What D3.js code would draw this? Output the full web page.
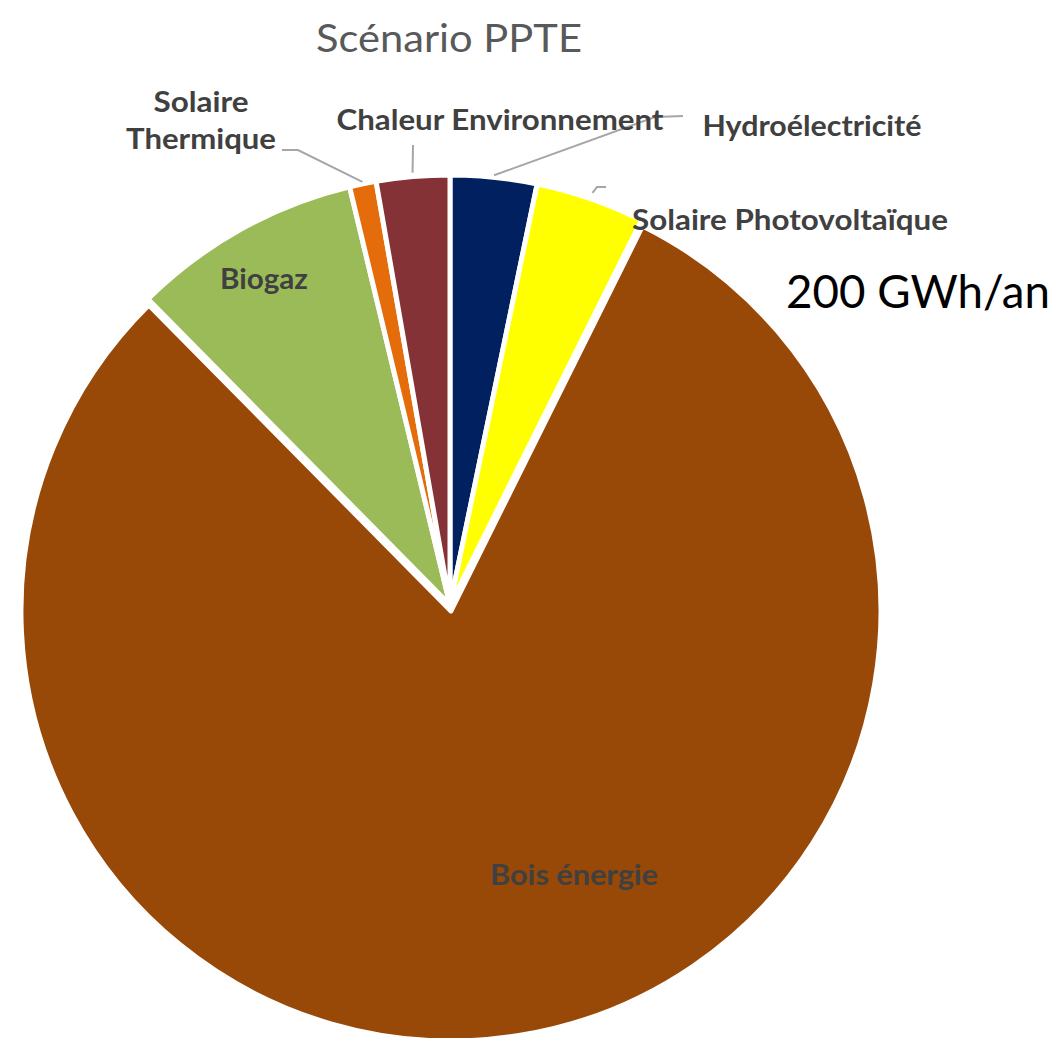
<!DOCTYPE html>
<html>
<head>
<meta charset="utf-8">
<script src="https://cdn.jsdelivr.net/npm/d3@7"></script>
<style>
body { margin: 0; background: #fff; }
</style>
</head>
<body>
<div id="chart"></div>
<script>
// data (GWh/an, total 200)
var categories = ["Hydroélectricité", "Solaire Photovoltaïque", "Bois énergie", "Biogaz", "Solaire Thermique", "Chaleur Environnement"];
var values = [6.5, 8.2, 160.5, 17.3, 2.0, 5.5];
var colors = ["#002060", "#ffff00", "#984807", "#9bbb59", "#e46c0a", "#843236"];
var title = "Scénario PPTE";
var totalLabel = "200 GWh/an";

// the big slice is pulled out a little
var explode = { "Bois énergie": 6 };

// label layout (text lines, centre x, baselines, widths, leader bends)
var labelLayout = [
    { lines: ["Hydroélectricité"], x: 812, y: [136], w: [219], leader: { off: 2, pts: [[655, 117], [683, 116]] } },
    { lines: ["Solaire Photovoltaïque"], x: 790, y: [230], w: [316], leader: { off: 6, pts: [[597, 187], [606, 187]] } },
    { lines: ["Bois énergie"], x: 574, y: [885], w: [168], leader: null },
    { lines: ["Biogaz"], x: 264, y: [289], w: [88], leader: null },
    { lines: ["Solaire", "Thermique"], x: 201, y: [112, 149], w: [95, 150], leader: { off: 2, pts: [[298, 150], [282, 150]] } },
    { lines: ["Chaleur Environnement"], x: 500, y: [130], w: [327], leader: { off: 4, pts: [[413, 145]] } }
];

var width = 1062, height = 1038;
var cx = 450, cy = 605, radius = 430;

var svg = d3.select("#chart").append("svg")
    .attr("width", width)
    .attr("height", height);

var data = categories.map(function(c, i) {
    return { name: c, value: values[i], color: colors[i], label: labelLayout[i], pull: explode[c] || 0 };
});

var pie = d3.pie().sort(null).value(function(d) { return d.value; });
var arcs = pie(data);

var arc = d3.arc().innerRadius(0).outerRadius(radius);

var g = svg.append("g").attr("transform", "translate(" + cx + "," + cy + ")");

g.selectAll("path.slice")
    .data(arcs)
    .enter().append("path")
    .attr("class", "slice")
    .attr("d", arc)
    .attr("transform", function(d) {
        var a = (d.startAngle + d.endAngle) / 2;
        return "translate(" + (d.data.pull * Math.sin(a)) + "," + (-d.data.pull * Math.cos(a)) + ")";
    })
    .attr("fill", function(d) { return d.data.color; })
    .attr("stroke", "#fff")
    .attr("stroke-width", 5)
    .attr("stroke-linejoin", "round");

// leader lines, starting on the slice edge at mid angle
arcs.forEach(function(d) {
    var lay = d.data.label;
    if (!lay.leader) return;
    var a = (d.startAngle + d.endAngle) / 2;
    var r = radius + lay.leader.off;
    var start = [cx + r * Math.sin(a), cy - r * Math.cos(a)];
    var pts = [start].concat(lay.leader.pts);
    svg.append("path")
        .attr("d", d3.line()(pts))
        .attr("fill", "none")
        .attr("stroke", "#a6a6a6")
        .attr("stroke-width", 2);
});

// category labels
arcs.forEach(function(d) {
    var lay = d.data.label;
    lay.lines.forEach(function(line, j) {
        svg.append("text")
            .attr("x", lay.x)
            .attr("y", lay.y[j])
            .attr("text-anchor", "middle")
            .attr("font-family", "Lato, 'Open Sans', sans-serif")
            .attr("font-weight", "bold")
            .attr("font-size", "28px")
            .attr("fill", "#404040")
            .attr("textLength", lay.w[j])
            .attr("lengthAdjust", "spacingAndGlyphs")
            .text(line);
    });
});

// title
svg.append("text")
    .attr("x", 449)
    .attr("y", 52)
    .attr("text-anchor", "middle")
    .attr("font-family", "Lato, 'Open Sans', sans-serif")
    .attr("font-size", "38px")
    .attr("fill", "#595959")
    .attr("textLength", 266)
    .attr("lengthAdjust", "spacingAndGlyphs")
    .text(title);

// total
svg.append("text")
    .attr("x", 786)
    .attr("y", 308)
    .attr("font-family", "Lato, 'Open Sans', sans-serif")
    .attr("font-size", "47px")
    .attr("fill", "#000")
    .attr("textLength", 264)
    .attr("lengthAdjust", "spacingAndGlyphs")
    .text(totalLabel);
</script>
</body>
</html>
